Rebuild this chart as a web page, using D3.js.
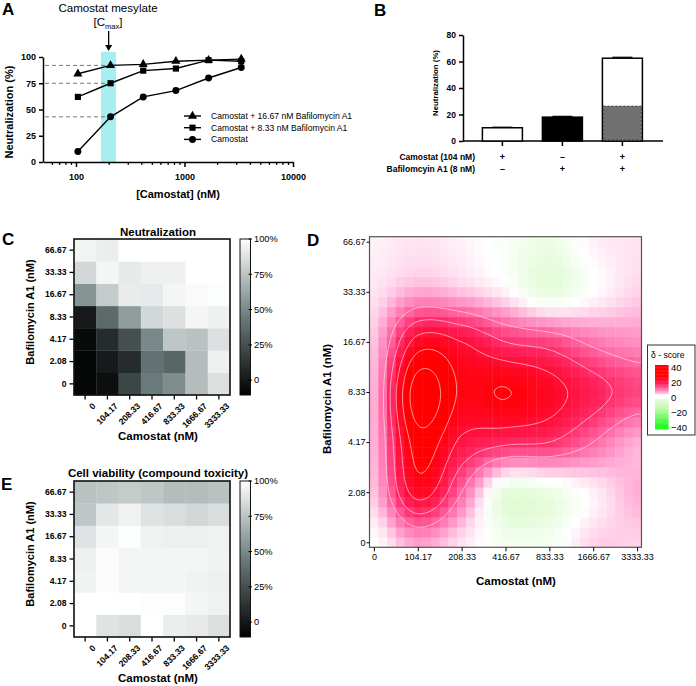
<!DOCTYPE html>
<html><head><meta charset="utf-8">
<script src="https://cdn.jsdelivr.net/npm/d3@7"></script>
<style>
body{margin:0;background:#fff}
svg{display:block}
text{font-family:"Liberation Sans",Arial,Helvetica,sans-serif;fill:#000}
</style>
</head><body>
<svg id="c" width="696" height="686"></svg>
<script>
// ================= DATA =================
// Panel A
const concA = [104.17, 208.33, 416.67, 833.33, 1666.67, 3333.33];
const legendA = ["Camostat + 16.67 nM Bafilomycin A1", "Camostat + 8.33 nM Bafilomycin A1", "Camostat"];
const neutBaf1667 = [84, 92, 93, 96, 97, 98];
const neutBaf833 = [62, 75, 87, 89, 97, 96];
const neutCamo = [10, 43, 62, 68, 80, 90];
const cmaxBand = [170, 234];
const cmaxArrow = 200;
const dashedLevels = [92, 75, 43];
const xTicksA = [100, 1000, 10000];
const xMinorA = [60,70,80,90,200,300,400,500,600,700,800,900,2000,3000,4000,5000,6000,7000,8000,9000];
const yTicksA = [0, 25, 50, 75, 100];

// Panel B
const camostatSigns = ["+", "\u2013", "+"];
const bafSigns = ["\u2013", "+", "+"];
const neutB = [10, 18, 62.5];
const errB = [0.4, 0.6, 0.7];
const expectedB = 26.3;
const yTicksB = [0, 20, 40, 60, 80];

// Panels C, D, E (rows: Bafilomycin ascending 0 -> 66.67; cols: Camostat ascending)
const camostatLabels = ["0", "104.17", "208.33", "416.67", "833.33", "1666.67", "3333.33"];
const bafLabels = ["0", "2.08", "4.17", "8.33", "16.67", "33.33", "66.67"];
const neutralization = [
  [-8, -4, 21, 44, 52, 72, 87],
  [-8,  1,  9, 40, 35, 72, 94],
  [-6,  9, 25, 50, 76, 74, 87],
  [ 1, 37, 59, 83, 87, 96, 94],
  [55, 78, 92, 91, 96, 98, 99],
  [83, 96, 91, 94, 94, 100, 100],
  [95, 93, 100, 100, 100, 100, 100]
];
const viability = [
  [100, 88.4, 85.8, 100, 92.7, 91.3, 87],
  [100, 100, 100, 99, 99, 95.7, 94.4],
  [94.8, 98.7, 96, 96, 96, 94.8, 93.5],
  [93.5, 98.7, 95.7, 95.7, 95.7, 95.7, 94.8],
  [88.4, 95.7, 99, 94.4, 93.5, 93.5, 94.4],
  [76, 90, 94.4, 88.4, 85.8, 82.7, 85.8],
  [74, 76, 78, 76, 72, 72, 74]
];
const deltaScore = [
  [0, 6, 2, -1.5, -1.5, 3, 3],
  [4, 22, 10, -4, -3, 1, 5],
  [5, 27.5, 19, 16, 15, 10, 5],
  [5, 33, 24.2, 25.2, 22, 17, 13],
  [4, 22, 20, 15, 13, 9, 7],
  [2, 5.5, 4, 1, -3.5, 0, 3],
  [1, 2, 1, -1, -3, 1, 2]
];
const contourLevels = [10, 15, 20, 25, 30];
const grayTicks = [0, 25, 50, 75, 100];
const deltaLegendTicks = [40, 20, 0, -20, -40];

// ================= DRAW =================
const svg = d3.select("#c");
svg.append("rect").attr("width", 696).attr("height", 686).attr("fill", "#fff");
const defs = svg.append("defs");

function styleAxis(sel, fs, bold, sw) {
  sel.selectAll("path.domain").attr("stroke", "#000").attr("stroke-width", sw);
  sel.selectAll(".tick line").attr("stroke", "#000").attr("stroke-width", sw);
  sel.selectAll(".tick text").attr("font-size", fs).attr("font-weight", bold ? "bold" : "normal")
    .attr("fill", "#000").attr("font-family", '"Liberation Sans",Arial,sans-serif');
}
function letter(t, x, y) {
  svg.append("text").attr("x", x).attr("y", y).text(t).attr("font-size", 17).attr("font-weight", "bold");
}
letter("A", 2, 15); letter("B", 374, 16); letter("C", 2, 245); letter("D", 307, 246); letter("E", 1, 490);

// ---------- Panel A ----------
const gA = svg.append("g");
const xA = d3.scaleLog().domain([50, 10000]).range([43.3, 293]);
const yA = d3.scaleLinear().domain([0, 100]).range([162, 57]);
gA.append("rect").attr("x", xA(cmaxBand[0])).attr("y", yA(105))
  .attr("width", xA(cmaxBand[1]) - xA(cmaxBand[0])).attr("height", yA(0) - yA(105)).attr("fill", "#a6eef0");
dashedLevels.forEach(v => gA.append("line").attr("x1", 45).attr("x2", xA(concA[1]))
  .attr("y1", yA(v)).attr("y2", yA(v)).attr("stroke", "#777").attr("stroke-width", 1).attr("stroke-dasharray", "4,3"));

const axYA = gA.append("g").attr("transform", "translate(43,0)")
  .call(d3.axisLeft(yA).tickValues(yTicksA).tickSize(4).tickSizeOuter(0));
styleAxis(axYA, 9, true, 1.5);
const axXA = gA.append("g").attr("transform", "translate(0,162)")
  .call(d3.axisBottom(xA).tickValues(xTicksA).tickFormat(d3.format("d")).tickSize(5).tickSizeOuter(0));
styleAxis(axXA, 9, true, 1.5);
axXA.selectAll(".tick text").attr("dy", "1.1em");
const axXAm = gA.append("g").attr("transform", "translate(0,162)")
  .call(d3.axisBottom(xA).tickValues(xMinorA).tickFormat("").tickSize(3).tickSizeOuter(0));
styleAxis(axXAm, 9, true, 1.2);
axXAm.select("path.domain").remove();

const seriesA = [
  { name: legendA[0], values: neutBaf1667, sym: d3.symbolTriangle, size: 36 },
  { name: legendA[1], values: neutBaf833, sym: d3.symbolSquare, size: 38 },
  { name: legendA[2], values: neutCamo, sym: d3.symbolCircle, size: 38 }
];
const lineA = d3.line().x((d, i) => xA(concA[i])).y(d => yA(d));
seriesA.forEach(s => {
  gA.append("path").attr("d", lineA(s.values)).attr("fill", "none").attr("stroke", "#000").attr("stroke-width", 1.4);
  gA.selectAll(null).data(s.values).enter().append("path")
    .attr("transform", (d, i) => `translate(${xA(concA[i])},${yA(d)})`)
    .attr("d", d3.symbol().type(s.sym).size(s.size)).attr("fill", "#000");
});
seriesA.forEach((s, k) => {
  const y = 116 + k * 11.7;
  gA.append("line").attr("x1", 184).attr("x2", 201).attr("y1", y).attr("y2", y).attr("stroke", "#000").attr("stroke-width", 1.4);
  gA.append("path").attr("transform", `translate(192.5,${y})`).attr("d", d3.symbol().type(s.sym).size(s.size)).attr("fill", "#000");
  gA.append("text").attr("x", 211).attr("y", y + 3).text(s.name).attr("font-size", 8.6);
});
gA.append("text").attr("x", 108).attr("y", 12).attr("text-anchor", "middle").attr("font-size", 11.6).text("Camostat mesylate");
const cm = gA.append("text").attr("x", 108).attr("y", 26).attr("text-anchor", "middle").attr("font-size", 11.6);
cm.append("tspan").text("[C");
cm.append("tspan").attr("font-size", 7.5).attr("dy", 3).text("max");
cm.append("tspan").attr("dy", -3).text("]");
const ax = xA(cmaxArrow);
gA.append("line").attr("x1", ax).attr("x2", ax).attr("y1", 31).attr("y2", 46).attr("stroke", "#000").attr("stroke-width", 1.3);
gA.append("path").attr("d", `M${ax - 3.5},45 L${ax + 3.5},45 L${ax},51 Z`).attr("fill", "#000");
gA.append("text").attr("transform", "translate(13,112) rotate(-90)").attr("text-anchor", "middle")
  .attr("font-size", 11).attr("font-weight", "bold").text("Neutralization (%)");
gA.append("text").attr("x", 178).attr("y", 198).attr("text-anchor", "middle")
  .attr("font-size", 11).attr("font-weight", "bold").text("[Camostat] (nM)");

// ---------- Panel B ----------
const gB = svg.append("g");
const xB = d3.scaleBand().domain([0, 1, 2]).range([472.4, 652.4]).paddingInner(1 / 3).paddingOuter(1 / 6);
const yB = d3.scaleLinear().domain([0, 80]).range([141, 35]);
const axYB = gB.append("g").attr("transform", "translate(463,0)")
  .call(d3.axisLeft(yB).tickValues(yTicksB).tickSize(4).tickSizeOuter(0));
styleAxis(axYB, 8.5, true, 1.5);
gB.append("line").attr("x1", 463).attr("x2", 663).attr("y1", 141).attr("y2", 141).attr("stroke", "#000").attr("stroke-width", 1.5);
[0, 1, 2].forEach(i => gB.append("line").attr("x1", xB(i) + xB.bandwidth() / 2).attr("x2", xB(i) + xB.bandwidth() / 2)
  .attr("y1", 141).attr("y2", 146).attr("stroke", "#000").attr("stroke-width", 1.5));
const fillsB = ["#fff", "#000", "#fff"];
neutB.forEach((v, i) => {
  const cx = xB(i) + xB.bandwidth() / 2;
  gB.append("line").attr("x1", cx).attr("x2", cx).attr("y1", yB(v)).attr("y2", yB(v + errB[i])).attr("stroke", "#000").attr("stroke-width", 1);
  gB.append("line").attr("x1", cx - 10).attr("x2", cx + 10).attr("y1", yB(v + errB[i])).attr("y2", yB(v + errB[i])).attr("stroke", "#000").attr("stroke-width", 1.2);
  gB.append("rect").attr("x", xB(i)).attr("y", yB(v)).attr("width", xB.bandwidth()).attr("height", yB(0) - yB(v))
    .attr("fill", fillsB[i]).attr("stroke", "#000").attr("stroke-width", 1.5);
});
gB.append("rect").attr("x", xB(2) + 0.8).attr("y", yB(expectedB)).attr("width", xB.bandwidth() - 1.6).attr("height", yB(0) - yB(expectedB) - 0.8)
  .attr("fill", "#707070").attr("stroke", "#222").attr("stroke-width", 0.8).attr("stroke-dasharray", "2.5,1.5");
gB.append("text").attr("transform", "translate(438,83) rotate(-90)").attr("text-anchor", "middle")
  .attr("font-size", 7.8).attr("font-weight", "bold").text("Neutralization (%)");
gB.append("text").attr("x", 475).attr("y", 160).attr("text-anchor", "end").attr("font-size", 8.5).attr("font-weight", "bold").text("Camostat (104 nM)");
gB.append("text").attr("x", 475).attr("y", 172).attr("text-anchor", "end").attr("font-size", 8.5).attr("font-weight", "bold").text("Bafilomcyin A1 (8 nM)");
[0, 1, 2].forEach(i => {
  const cx = xB(i) + xB.bandwidth() / 2;
  gB.append("text").attr("x", cx).attr("y", 160).attr("text-anchor", "middle").attr("font-size", 9).attr("font-weight", "bold").text(camostatSigns[i]);
  gB.append("text").attr("x", cx).attr("y", 172).attr("text-anchor", "middle").attr("font-size", 9).attr("font-weight", "bold").text(bafSigns[i]);
});

// ---------- Panels C & E ----------
const grayColor = d3.scaleLinear().domain([-10.5, 45, 100]).range(["#000000", "#6c7c7c", "#ffffff"]).clamp(true);
const gg = defs.append("linearGradient").attr("id", "gGray").attr("x1", 0).attr("y1", 1).attr("x2", 0).attr("y2", 0);
d3.range(0, 1.0001, 0.05).forEach(f => gg.append("stop").attr("offset", f).attr("stop-color", grayColor(-10.5 + f * 110.5)));

function heatPanel(data, top, title, titleY) {
  const g = svg.append("g");
  const x = d3.scaleBand().domain(camostatLabels).range([74, 230]);
  const y = d3.scaleBand().domain(bafLabels.slice().reverse()).range([top, top + 156]);
  const cells = [];
  data.forEach((row, r) => row.forEach((v, c) => cells.push({ r, c, v })));
  g.selectAll(null).data(cells).enter().append("rect")
    .attr("x", d => x(camostatLabels[d.c])).attr("y", d => y(bafLabels[d.r]))
    .attr("width", x.bandwidth() + 0.3).attr("height", y.bandwidth() + 0.3).attr("fill", d => grayColor(d.v));
  g.append("rect").attr("x", 74).attr("y", top).attr("width", 156).attr("height", 156)
    .attr("fill", "none").attr("stroke", "#111").attr("stroke-width", 1.6);
  const ay = g.append("g").attr("transform", "translate(73.5,0)").call(d3.axisLeft(y).tickSize(4).tickSizeOuter(0));
  styleAxis(ay, 8.6, true, 1.3); ay.select("path.domain").remove();
  const axx = g.append("g").attr("transform", `translate(0,${top + 156.5})`).call(d3.axisBottom(x).tickSize(4).tickSizeOuter(0));
  styleAxis(axx, 8.6, true, 1.3); axx.select("path.domain").remove();
  axx.selectAll(".tick text").attr("text-anchor", "end").attr("transform", "translate(4,4) rotate(-45)").attr("dy", "0.7em").attr("dx", 0).attr("y", 4);
  g.append("text").attr("x", 158).attr("y", titleY).attr("text-anchor", "middle").attr("font-size", 11.5).attr("font-weight", "bold").text(title);
  g.append("text").attr("transform", `translate(34,${top + 73}) rotate(-90)`).attr("text-anchor", "middle")
    .attr("font-size", 11).attr("font-weight", "bold").text("Bafilomycin A1 (nM)");
  g.append("text").attr("x", 158).attr("y", top + 201).attr("text-anchor", "middle")
    .attr("font-size", 11.5).attr("font-weight", "bold").text("Camostat (nM)");
  // colorbar
  const cb = d3.scaleLinear().domain([-10.5, 100]).range([top + 156, top]);
  g.append("rect").attr("x", 240).attr("y", top).attr("width", 10.5).attr("height", 156)
    .attr("fill", "url(#gGray)").attr("stroke", "#111").attr("stroke-width", 1);
  grayTicks.forEach(t => {
    g.append("line").attr("x1", 248.5).attr("x2", 252).attr("y1", cb(t)).attr("y2", cb(t)).attr("stroke", "#000").attr("stroke-width", 1);
    g.append("text").attr("x", 254).attr("y", cb(t) + 3.3).attr("font-size", 9.3).text(t === 0 ? "0" : t + "%");
  });
}
heatPanel(neutralization, 239, "Neutralization", 236);
heatPanel(viability, 481, "Cell viability (compound toxicity)", 477);

// ---------- Panel D ----------
function cubic(p0, p1, p2, p3, t) {
  return p1 + 0.5 * t * (p2 - p0 + t * (2 * p0 - 5 * p1 + 4 * p2 - p3 + t * (3 * (p1 - p2) + p3 - p0)));
}
function sampleD(tx, ty) {
  tx = Math.max(0, Math.min(6, tx)); ty = Math.max(0, Math.min(6, ty));
  const ix = Math.min(5, Math.floor(tx)), iy = Math.min(5, Math.floor(ty));
  const fx = tx - ix, fy = ty - iy;
  const gv = (r, c) => deltaScore[Math.max(0, Math.min(6, r))][Math.max(0, Math.min(6, c))];
  const rows = [];
  for (let m = -1; m <= 2; m++) { const r = iy + m; rows.push(cubic(gv(r, ix - 1), gv(r, ix), gv(r, ix + 1), gv(r, ix + 2), fx)); }
  return cubic(rows[0], rows[1], rows[2], rows[3], fy);
}
const posScale = d3.scaleLinear().domain([0, 2.5, 6, 11, 16, 21, 26])
  .range(["#ffffff", "#ffdcee", "#ff9ccc", "#ff5a98", "#ff2460", "#ff0a2c", "#ff0000"]).clamp(true);
const negScale = d3.scaleLinear().domain([-40, -15, -4, 0]).range(["#00ff00", "#c4f7b0", "#e6fcdc", "#ffffff"]).clamp(true);
const dColor = v => v >= 0 ? posScale(v) : negScale(v);

const xD = d3.scaleLinear().domain([-0.1, 6.1]).range([369.5, 641.5]);
const yD = d3.scaleLinear().domain([-0.1, 6.1]).range([547.3, 236.7]);
const gD = svg.append("g");
const dCells = [];
for (let i = 0; i <= 30; i++) for (let j = 0; j <= 30; j++) dCells.push({ tx: i * 0.2, ty: j * 0.2, v: sampleD(i * 0.2, j * 0.2) });
gD.selectAll(null).data(dCells).enter().append("rect")
  .attr("x", d => xD(d.tx - 0.1)).attr("y", d => yD(d.ty + 0.1))
  .attr("width", xD(0.2) - xD(0) + 0.4).attr("height", yD(0) - yD(0.2) + 0.4)
  .attr("fill", d => dColor(d.v));
defs.append("clipPath").attr("id", "clipD").append("rect")
  .attr("x", xD(-0.1)).attr("y", yD(6.1)).attr("width", xD(6.1) - xD(-0.1)).attr("height", yD(-0.1) - yD(6.1));
const nC = 125, dt = 0.05, t0 = -0.1;
const vals = new Array(nC * nC);
for (let j = 0; j < nC; j++) for (let i = 0; i < nC; i++) vals[j * nC + i] = sampleD(t0 + i * dt, t0 + j * dt);
const cont = d3.contours().size([nC, nC]).thresholds(contourLevels)(vals);
const toPx = p => [xD(t0 + (p[0] - 0.5) * dt), yD(t0 + (p[1] - 0.5) * dt)];
const gCont = gD.append("g").attr("clip-path", "url(#clipD)");
cont.forEach(c => c.coordinates.forEach(poly => poly.forEach(ring => {
  gCont.append("path").attr("d", "M" + ring.map(p => toPx(p).join(",")).join("L") + "Z")
    .attr("fill", "none").attr("stroke", "#ffe4f0").attr("stroke-opacity", 0.8).attr("stroke-width", 0.8);
})));
gD.append("rect").attr("x", xD(-0.1)).attr("y", yD(6.1)).attr("width", xD(6.1) - xD(-0.1)).attr("height", yD(-0.1) - yD(6.1))
  .attr("fill", "none").attr("stroke", "#555").attr("stroke-width", 1.2);
const ayD = gD.append("g").attr("transform", `translate(${xD(-0.1)},0)`)
  .call(d3.axisLeft(yD).tickValues([0, 1, 2, 3, 4, 5, 6]).tickFormat(i => bafLabels[i]).tickSize(3).tickSizeOuter(0));
styleAxis(ayD, 9, false, 1); ayD.select("path.domain").remove();
ayD.selectAll(".tick text").attr("fill", "#222").attr("x", -4);
const axD = gD.append("g").attr("transform", `translate(0,${yD(-0.1)})`)
  .call(d3.axisBottom(xD).tickValues([0, 1, 2, 3, 4, 5, 6]).tickFormat(i => camostatLabels[i]).tickSize(4).tickSizeOuter(0));
styleAxis(axD, 9, false, 1); axD.select("path.domain").remove();
axD.selectAll(".tick text").attr("fill", "#222").attr("y", 6);
gD.append("text").attr("transform", "translate(331,399) rotate(-90)").attr("text-anchor", "middle")
  .attr("font-size", 11.5).attr("font-weight", "bold").text("Bafilomycin A1 (nM)");
gD.append("text").attr("x", 516).attr("y", 585).attr("text-anchor", "middle")
  .attr("font-size", 11.5).attr("font-weight", "bold").text("Camostat (nM)");
// legend D
const gL = svg.append("g");
gL.append("rect").attr("x", 647.5).attr("y", 345).attr("width", 47.5).attr("height", 90).attr("fill", "#fff").attr("stroke", "#333").attr("stroke-width", 1);
gL.append("text").attr("x", 651).attr("y", 358).attr("font-size", 8.6).text("\u03b4 - score");
const lgY = d3.scaleLinear().domain([40, 0]).range([365, 396]);
const lgYn = d3.scaleLinear().domain([-3, -40]).range([398, 429]);
d3.range(40, 3.5, -1).forEach(v => gL.append("rect").attr("x", 655).attr("y", lgY(v)).attr("width", 13.5).attr("height", lgY(0) - lgY(1) + 0.4).attr("fill", dColor(v)));
d3.range(-4, -40, -1).forEach(v => gL.append("rect").attr("x", 655).attr("y", lgYn(v)).attr("width", 13.5).attr("height", lgYn(-4) - lgYn(-3) + 0.4).attr("fill", dColor(v)));
const lgPos = d3.scaleLinear().domain([40, -40]).range([367, 427]);
deltaLegendTicks.forEach(t => gL.append("text").attr("x", 671).attr("y", lgPos(t) + 3.5).attr("font-size", 9.5).text(t < 0 ? "\u2212" + Math.abs(t) : String(t)));
</script>
</body></html>
